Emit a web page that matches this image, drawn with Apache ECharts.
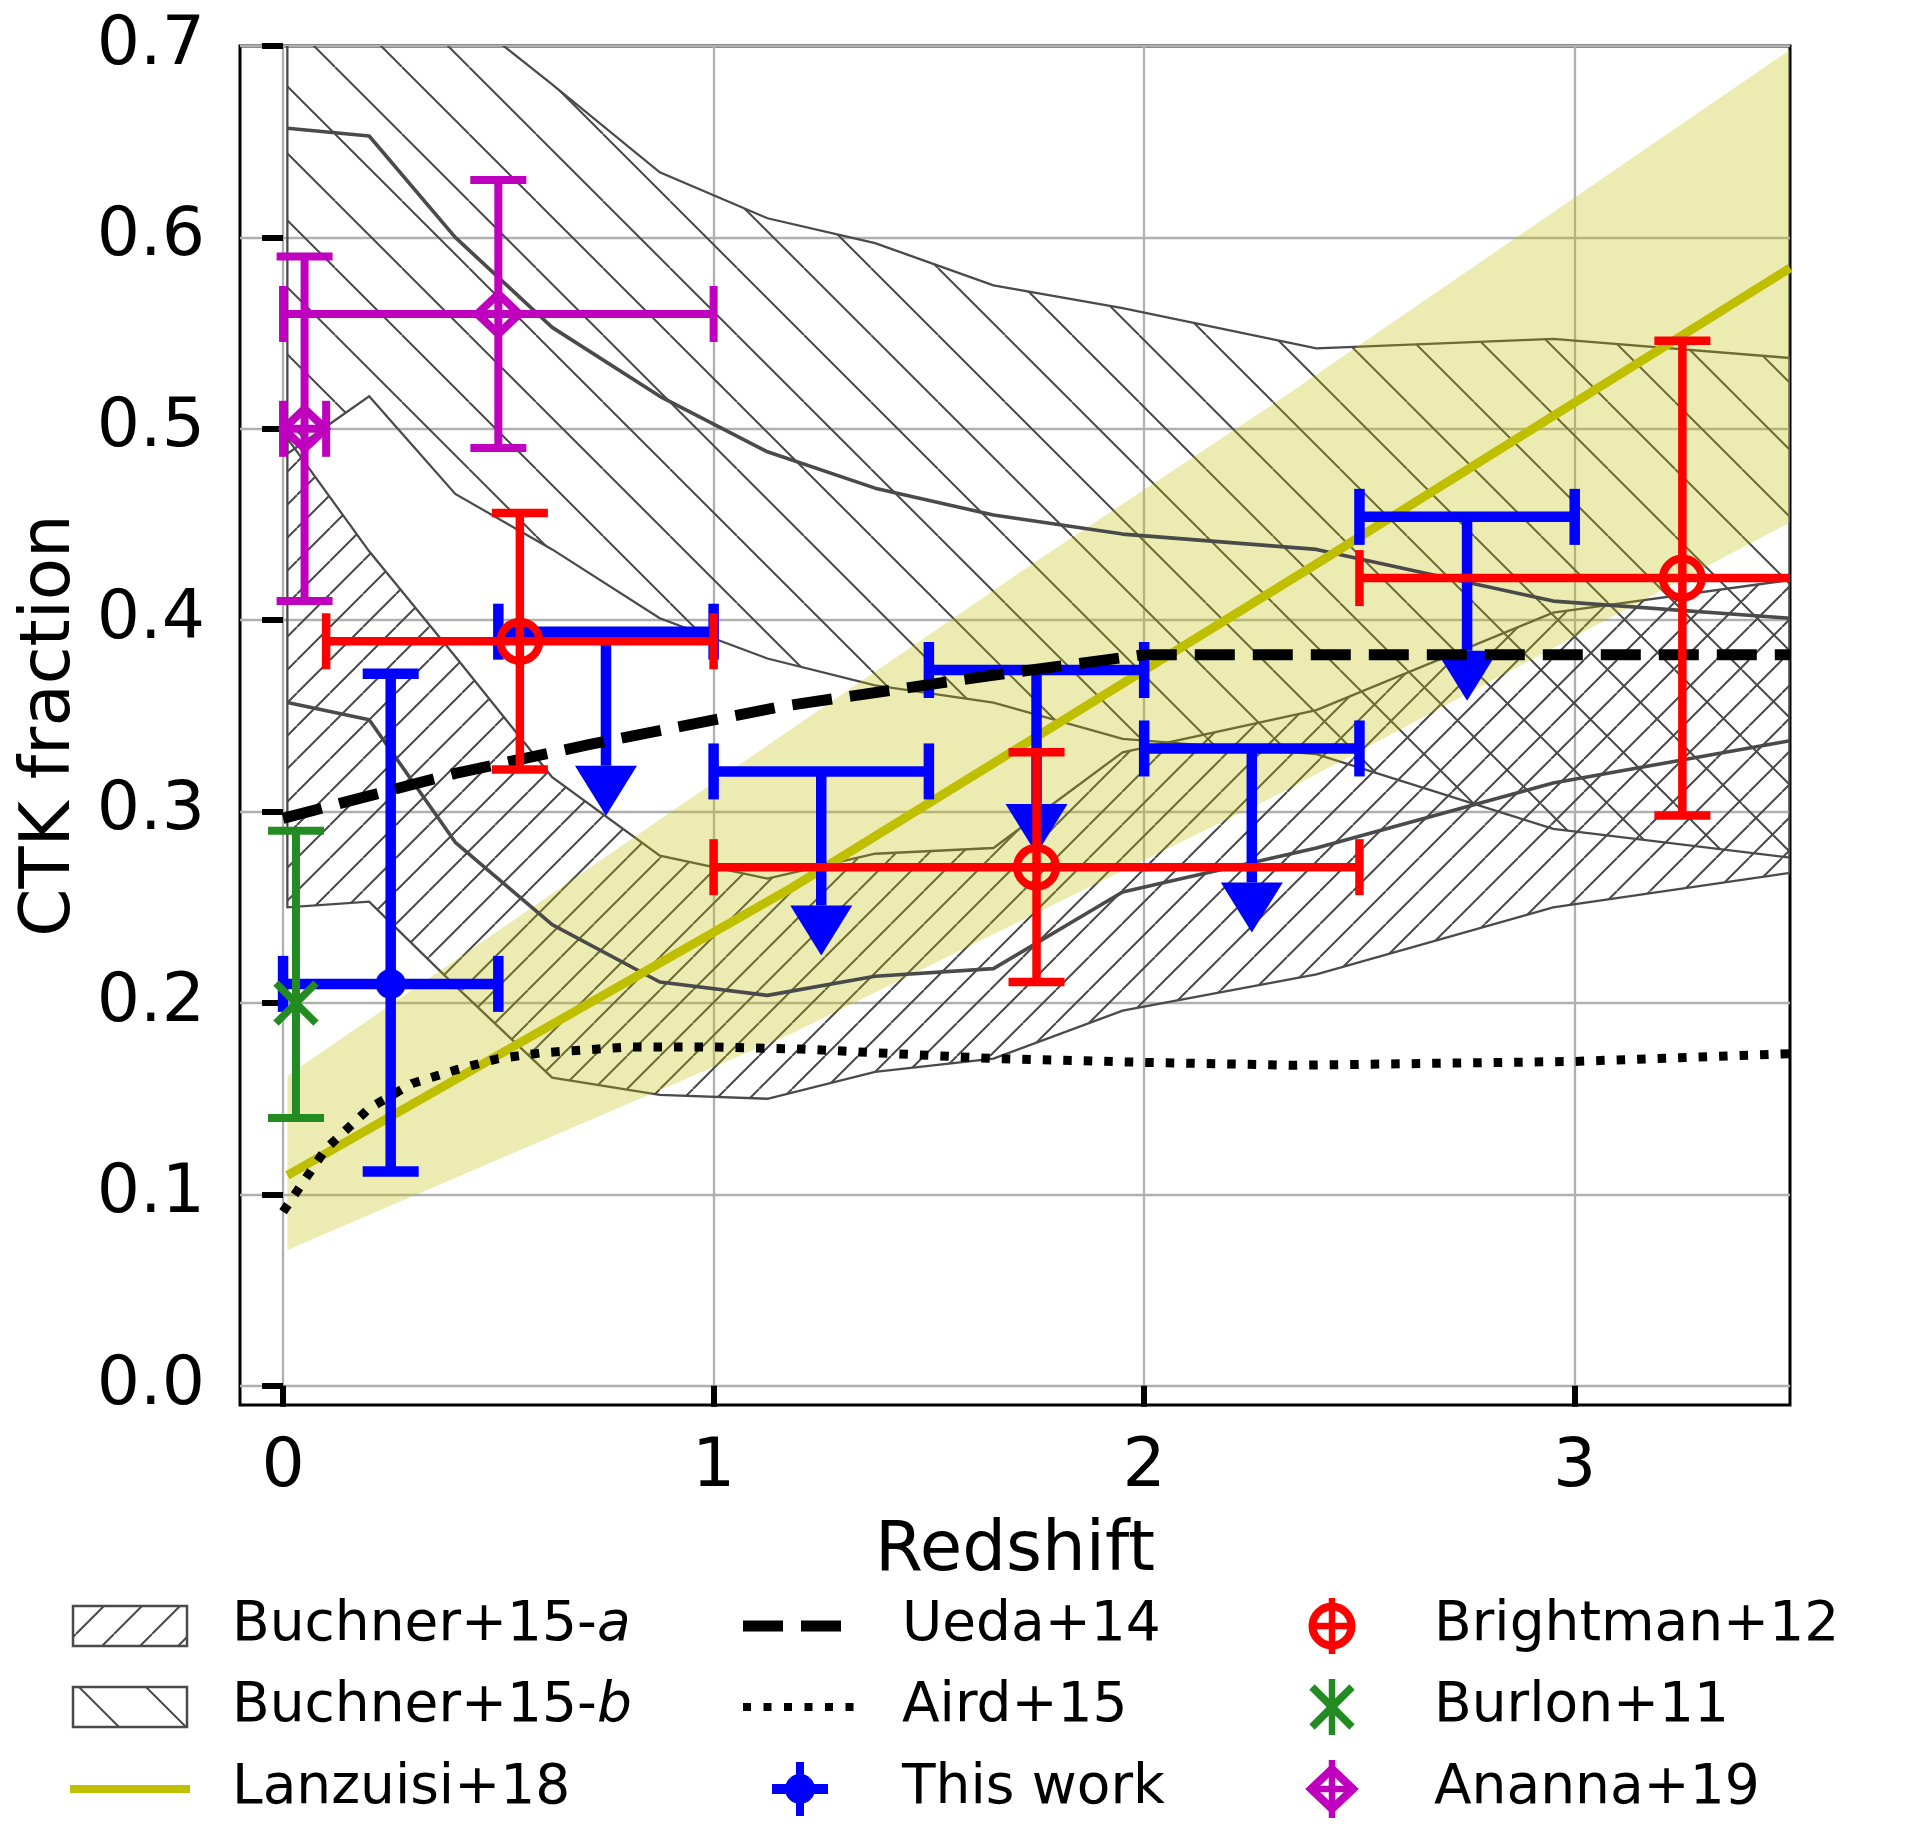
<!DOCTYPE html>
<html>
<head>
<meta charset="utf-8">
<title>CTK fraction vs redshift</title>
<script src="https://cdn.jsdelivr.net/npm/echarts@6.0.0/dist/echarts.min.js"></script>
<style>
  html, body { margin: 0; padding: 0; background: #fff; }
  #chart { width: 1916px; height: 1834px; }
</style>
</head>
<body>
<div id="chart"></div>
<script>
// Buchner+15 bands, read on a common set of redshift nodes
const buchnerZ     = [0.01, 0.2, 0.4, 0.625, 0.875, 1.125, 1.375, 1.65, 1.95, 2.4, 2.95, 3.5];
const buchnerALow  = [0.250, 0.253, 0.209, 0.161, 0.152, 0.150, 0.164, 0.171, 0.196, 0.215, 0.250, 0.268];
const buchnerAHigh = [0.495, 0.436, 0.381, 0.318, 0.277, 0.265, 0.278, 0.281, 0.331, 0.353, 0.404, 0.421];
const buchnerAMid  = [0.357, 0.348, 0.284, 0.241, 0.211, 0.204, 0.214, 0.218, 0.258, 0.281, 0.315, 0.337];
const buchnerBLow  = [0.487, 0.517, 0.466, 0.437, 0.401, 0.380, 0.366, 0.357, 0.338, 0.330, 0.291, 0.276];
const buchnerBHigh = [0.780, 0.750, 0.720, 0.680, 0.634, 0.610, 0.597, 0.575, 0.563, 0.542, 0.547, 0.537];
const buchnerBMid  = [0.657, 0.653, 0.600, 0.553, 0.517, 0.488, 0.469, 0.455, 0.445, 0.437, 0.410, 0.401];

// Lanzuisi+18: best fit and its band
const lanzZ        = [0.01, 0.4, 1.18, 2.39, 3.5];
const lanzFrac     = [0.110, 0.160, 0.260, 0.428, 0.584];
const lanzHighZ    = [0.01, 1.18, 1.75, 2.32, 3.5];
const lanzHigh     = [0.162, 0.343, 0.431, 0.516, 0.698];
const lanzLowZ     = [0.01, 1.18, 2.32, 3.33, 3.5];
const lanzLow      = [0.071, 0.184, 0.310, 0.431, 0.451];

// Ueda+14 and Aird+15 model curves
const uedaZ  = [0.0, 0.4, 0.71, 1.16, 1.64, 2.0, 3.5];
const uedaF  = [0.2965, 0.320, 0.335, 0.355, 0.371, 0.382, 0.382];
const airdZ  = [0.0, 0.1, 0.2, 0.3, 0.4, 0.5, 0.6, 0.8, 1.0, 1.2, 1.65, 2.0, 2.35, 3.0, 3.5];
const airdF  = [0.091, 0.124, 0.145, 0.158, 0.165, 0.171, 0.174, 0.177, 0.177, 0.176, 0.171, 0.169, 0.1675, 0.1695, 0.1735];

// measurements: [z, fraction, zLow, zHigh, fLow, fHigh]
const thisWork   = [[0.25, 0.210, 0.0, 0.5, 0.112, 0.372]];
// upper limits: [z, fraction, zLow, zHigh, arrow end]
const thisWorkUL = [
  [0.75, 0.394, 0.5, 1.0, 0.324],
  [1.25, 0.321, 1.0, 1.5, 0.251],
  [1.75, 0.374, 1.5, 2.0, 0.304],
  [2.25, 0.333, 2.0, 2.5, 0.263],
  [2.75, 0.454, 2.5, 3.0, 0.384]
];
const brightman = [
  [0.55, 0.389, 0.1, 1.0, 0.322, 0.456],
  [1.75, 0.271, 1.0, 2.5, 0.211, 0.331],
  [3.25, 0.422, 2.5, 4.0, 0.298, 0.546]
];
const burlon = [[0.03, 0.200, null, null, 0.140, 0.290]];
const ananna = [
  [0.05, 0.500, 0.0, 0.1, 0.410, 0.590],
  [0.50, 0.560, 0.0, 1.0, 0.490, 0.630]
];

const xTicks = [0, 1, 2, 3];
const yTicks = [0, 0.1, 0.2, 0.3, 0.4, 0.5, 0.6, 0.7];
const legendNames = ['Buchner+15-{i|a}', 'Buchner+15-{i|b}', 'Lanzuisi+18', 'Ueda+14', 'Aird+15',
  'This work', 'Brightman+12', 'Burlon+11', 'Ananna+19'];

const BLUE = '#0000ff', RED = '#ff0000', GREEN = '#228b22', MAGENTA = '#bf00bf', OLIVE = '#bfbf00';
const HATCH = '#4a4a4a';
const FONT = 'DejaVu Sans';

// hatch tiles for the Buchner bands
function hatchTile(size, dir) {
  const c = document.createElement('canvas');
  c.width = size;
  c.height = size;
  const ctx = c.getContext('2d');
  ctx.strokeStyle = HATCH;
  ctx.lineWidth = 2;
  ctx.beginPath();
  for (let k = -1; k <= 1; k++) {
    if (dir === '/') {
      ctx.moveTo(k * size, size);
      ctx.lineTo(k * size + size, 0);
    } else {
      ctx.moveTo(k * size, 0);
      ctx.lineTo(k * size + size, size);
    }
  }
  ctx.stroke();
  return c;
}
const hatchA = { image: hatchTile(33, '/'), repeat: 'repeat' };
const hatchB = { image: hatchTile(67, '\\'), repeat: 'repeat' };

const pairs = (xs, ys) => xs.map((x, i) => [x, ys[i]]);
const bandPoints = (xHi, yHi, xLo, yLo) => pairs(xHi, yHi).concat(pairs(xLo, yLo).reverse());

function polygonSeries(points, style, z) {
  return {
    type: 'custom',
    z: z,
    clip: true,
    silent: true,
    data: points,
    encode: { x: 0, y: 1 },
    renderItem: function (params, api) {
      if (params.dataIndex !== 0) return null;
      const pts = points.map(p => api.coord(p));
      return { type: 'polygon', shape: { points: pts }, style: style };
    }
  };
}

function lineSeries(xs, ys, color, width, dash, z) {
  return {
    type: 'line',
    z: z,
    data: pairs(xs, ys),
    showSymbol: false,
    symbol: 'none',
    silent: true,
    lineStyle: { color: color, width: width, type: dash || 'solid', cap: 'butt' }
  };
}

const CAP = 28;

function errorBarSeries(data, color, lw, marker, z) {
  return {
    type: 'custom',
    z: z,
    clip: true,
    silent: true,
    data: data,
    encode: { x: 0, y: 1 },
    renderItem: function (params, api) {
      const z0 = api.value(0), v = api.value(1);
      const kids = [];
      const seg = (p, q) => kids.push({
        type: 'line',
        shape: { x1: p[0], y1: p[1], x2: q[0], y2: q[1] },
        style: { stroke: color, lineWidth: lw }
      });
      const xlo = api.value(2), xhi = api.value(3), ylo = api.value(4), yhi = api.value(5);
      if (isFinite(xlo) && isFinite(xhi)) {
        const a = api.coord([xlo, v]), b = api.coord([xhi, v]);
        seg(a, b);
        seg([a[0], a[1] - CAP], [a[0], a[1] + CAP]);
        seg([b[0], b[1] - CAP], [b[0], b[1] + CAP]);
      }
      if (isFinite(ylo) && isFinite(yhi)) {
        const a = api.coord([z0, ylo]), b = api.coord([z0, yhi]);
        seg(a, b);
        seg([a[0] - CAP, a[1]], [a[0] + CAP, a[1]]);
        seg([b[0] - CAP, b[1]], [b[0] + CAP, b[1]]);
      }
      kids.push(marker(api.coord([z0, v])));
      return { type: 'group', children: kids };
    }
  };
}

function upperLimitSeries(data, z) {
  return {
    type: 'custom',
    z: z,
    clip: true,
    silent: true,
    data: data,
    encode: { x: 0, y: 1 },
    renderItem: function (params, api) {
      const z0 = api.value(0), v = api.value(1);
      const a = api.coord([api.value(2), v]), b = api.coord([api.value(3), v]);
      const top = api.coord([z0, v]), end = api.coord([z0, api.value(4)]);
      const ln = (p, q) => ({
        type: 'line',
        shape: { x1: p[0], y1: p[1], x2: q[0], y2: q[1] },
        style: { stroke: BLUE, lineWidth: 10.5 }
      });
      return {
        type: 'group',
        children: [
          ln(a, b),
          ln([a[0], a[1] - CAP], [a[0], a[1] + CAP]),
          ln([b[0], b[1] - CAP], [b[0], b[1] + CAP]),
          ln(top, end),
          {
            type: 'polygon',
            shape: { points: [[end[0] - 31, end[1]], [end[0] + 31, end[1]], [end[0], end[1] + 50]] },
            style: { fill: BLUE }
          }
        ]
      };
    }
  };
}

// markers
const dotMarker = c => ({ type: 'circle', shape: { cx: c[0], cy: c[1], r: 15 }, style: { fill: BLUE } });
const ringMarker = c => ({ type: 'circle', shape: { cx: c[0], cy: c[1], r: 19.5 },
  style: { fill: 'none', stroke: RED, lineWidth: 8 } });
const crossMarker = c => ({ type: 'group', children: [
  { type: 'line', shape: { x1: c[0] - 20, y1: c[1] - 20, x2: c[0] + 20, y2: c[1] + 20 }, style: { stroke: GREEN, lineWidth: 7.5 } },
  { type: 'line', shape: { x1: c[0] - 20, y1: c[1] + 20, x2: c[0] + 20, y2: c[1] - 20 }, style: { stroke: GREEN, lineWidth: 7.5 } }
] });
const diamondMarker = c => ({ type: 'polygon',
  shape: { points: [[c[0], c[1] - 20], [c[0] + 21, c[1]], [c[0], c[1] + 20], [c[0] - 21, c[1]]] },
  style: { fill: 'none', stroke: MAGENTA, lineWidth: 8 } });

// legend built with graphic elements (hatched boxes cannot be drawn by the legend component)
function legendGraphics() {
  const rows = [1626, 1707, 1789];
  const textX = [232, 902, 1434];
  const els = [];
  const seg = (x1, y1, x2, y2, color, w, dash) => ({
    type: 'line', shape: { x1, y1, x2, y2 },
    style: { stroke: color, lineWidth: w, lineDash: dash || null, lineCap: 'butt' }
  });
  legendNames.forEach((name, i) => {
    const col = Math.floor(i / 3), row = i % 3;
    els.push({
      type: 'text', x: textX[col], y: rows[row],
      style: {
        text: name, fontSize: 55, fontFamily: FONT, fill: '#000',
        verticalAlign: 'middle', textVerticalAlign: 'middle',
        rich: { i: { fontStyle: 'italic', fontSize: 55, fontFamily: FONT, fill: '#000' } }
      }
    });
  });
  els.push({ type: 'rect', shape: { x: 73, y: rows[0] - 20, width: 114, height: 40 },
    style: { fill: { image: hatchTile(38, '/'), repeat: 'repeat' }, stroke: HATCH, lineWidth: 2.5 } });
  els.push({ type: 'rect', shape: { x: 73, y: rows[1] - 20, width: 114, height: 40 },
    style: { fill: hatchB, stroke: HATCH, lineWidth: 2.5 } });
  els.push(seg(70, rows[2], 190, rows[2], OLIVE, 8));
  els.push(seg(743, rows[0], 856, rows[0], '#000', 11, [40, 18]));
  els.push(seg(743, rows[1], 856, rows[1], '#000', 8, [8, 12.5]));
  // this work
  const tw = [800, rows[2]];
  els.push(seg(tw[0], tw[1] - 27, tw[0], tw[1] + 27, BLUE, 8));
  els.push(seg(tw[0] - 28, tw[1], tw[0] + 28, tw[1], BLUE, 10));
  els.push(dotMarker(tw));
  // Brightman
  const br = [1332, rows[0]];
  els.push(seg(br[0], br[1] - 28, br[0], br[1] + 28, RED, 6.5));
  els.push(seg(br[0] - 22, br[1], br[0] + 22, br[1], RED, 6.5));
  els.push(ringMarker(br));
  // Burlon
  const bu = [1332, rows[1]];
  els.push(seg(bu[0], bu[1] - 28, bu[0], bu[1] + 28, GREEN, 6.5));
  els.push(crossMarker(bu));
  // Ananna
  const an = [1332, rows[2]];
  els.push(seg(an[0], an[1] - 29, an[0], an[1] + 29, MAGENTA, 6.5));
  els.push(seg(an[0] - 22, an[1], an[0] + 22, an[1], MAGENTA, 6.5));
  els.push(diamondMarker(an));
  return els;
}

const chart = echarts.init(document.getElementById('chart'), null, { renderer: 'canvas', width: 1916, height: 1834 });

const option = {
  animation: false,
  backgroundColor: '#fff',
  grid: { left: 240, top: 46, width: 1550, height: 1359, show: true, borderColor: '#000', borderWidth: 3, backgroundColor: 'transparent' },
  xAxis: {
    type: 'value', min: -0.1, max: 3.5,
    name: 'Redshift', nameLocation: 'middle', nameGap: 113,
    nameTextStyle: { fontSize: 69, fontFamily: FONT, color: '#000' },
    axisLine: { show: false },
    axisTick: { show: true, customValues: xTicks, length: 21, lineStyle: { color: '#000', width: 6 } },
    axisLabel: { customValues: xTicks, fontSize: 68, fontFamily: FONT, color: '#000', margin: 29 },
    splitLine: { show: true, lineStyle: { color: '#b0b0b0', width: 2.3 } }
  },
  yAxis: {
    type: 'value', min: -0.01, max: 0.7,
    name: 'CTK fraction', nameLocation: 'middle', nameGap: 148, nameRotate: 90,
    nameTextStyle: { fontSize: 69, fontFamily: FONT, color: '#000' },
    axisLine: { show: false },
    axisTick: { show: true, customValues: yTicks, length: 21, lineStyle: { color: '#000', width: 6 } },
    axisLabel: { customValues: yTicks, fontSize: 68, fontFamily: FONT, color: '#000', margin: 35,
      formatter: v => v.toFixed(1) },
    splitLine: { show: true, lineStyle: { color: '#b0b0b0', width: 2.3 } }
  },
  series: [
    polygonSeries(bandPoints(buchnerZ, buchnerAHigh, buchnerZ, buchnerALow),
      { fill: hatchA, stroke: HATCH, lineWidth: 2.3 }, 1),
    polygonSeries(bandPoints(buchnerZ, buchnerBHigh, buchnerZ, buchnerBLow),
      { fill: hatchB, stroke: HATCH, lineWidth: 2.3 }, 1),
    polygonSeries(bandPoints(lanzHighZ, lanzHigh, lanzLowZ, lanzLow),
      { fill: 'rgba(191,191,0,0.3)', stroke: 'none' }, 2),
    lineSeries(buchnerZ, buchnerAMid, HATCH, 3.6, null, 3),
    lineSeries(buchnerZ, buchnerBMid, HATCH, 3.6, null, 3),
    lineSeries(lanzZ, lanzFrac, OLIVE, 9, null, 4),
    lineSeries(airdZ, airdF, '#000', 9, [8.5, 12], 4),
    errorBarSeries(thisWork, BLUE, 10.5, dotMarker, 5),
    upperLimitSeries(thisWorkUL, 5),
    lineSeries(uedaZ, uedaF, '#000', 11, [40, 18], 6),
    errorBarSeries(brightman, RED, 8.5, ringMarker, 7),
    errorBarSeries(burlon, GREEN, 8, crossMarker, 8),
    errorBarSeries(ananna, MAGENTA, 8, diamondMarker, 9)
  ],
  graphic: legendGraphics()
};

chart.setOption(option);
</script>
</body>
</html>
